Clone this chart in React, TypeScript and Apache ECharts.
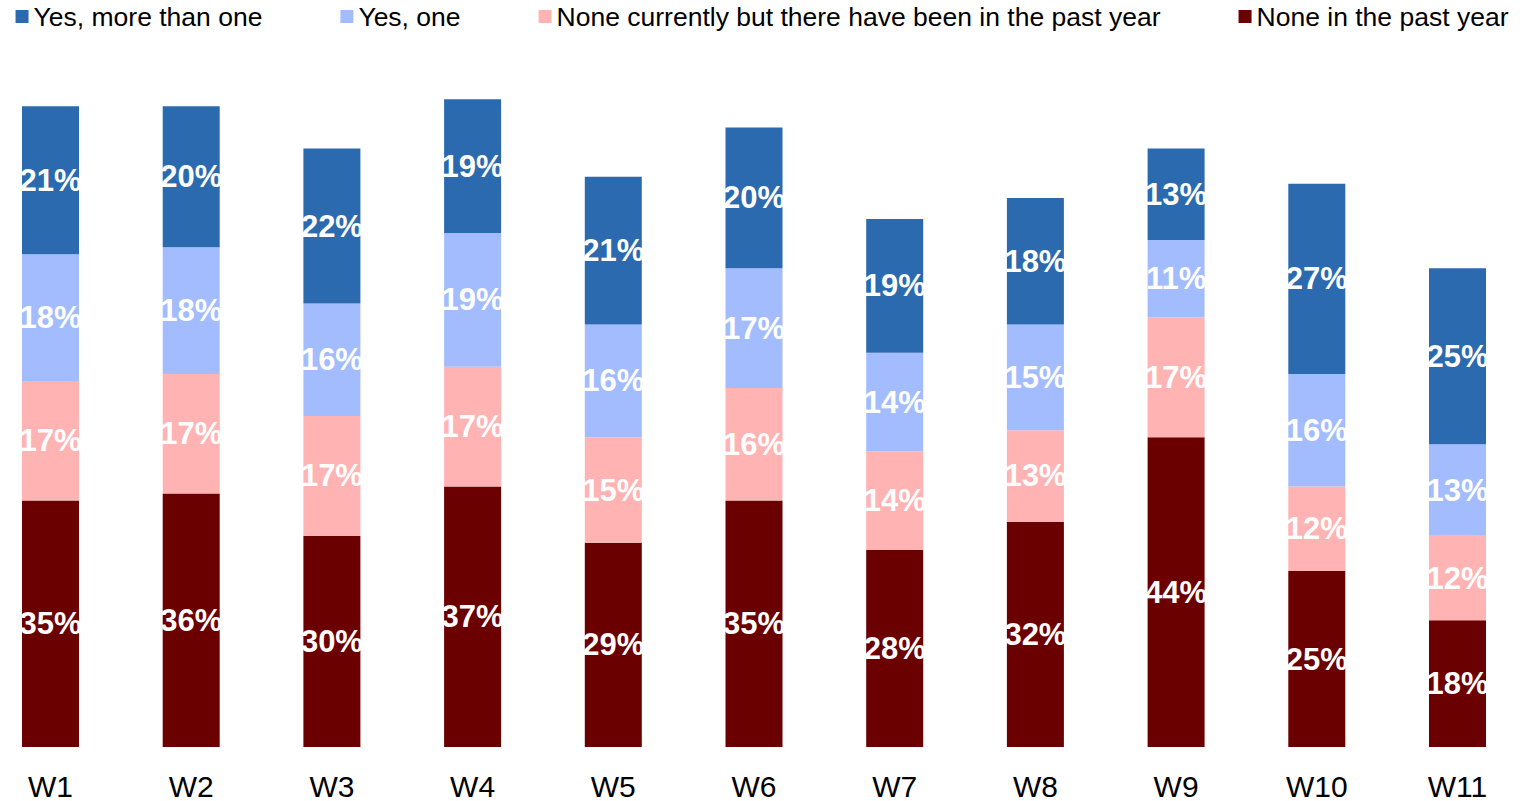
import React, { useEffect, useRef } from "react";
import * as echarts from "echarts";

const categories = ["W1", "W2", "W3", "W4", "W5", "W6", "W7", "W8", "W9", "W10", "W11"];
const yesMoreThanOne = [21, 20, 22, 19, 21, 20, 19, 18, 13, 27, 25];
const yesOne = [18, 18, 16, 19, 16, 17, 14, 15, 11, 16, 13];
const noneCurrently = [17, 17, 17, 17, 15, 16, 14, 13, 17, 12, 12];
const noneInPastYear = [35, 36, 30, 37, 29, 35, 28, 32, 44, 25, 18];

const seriesNames = [
  "Yes, more than one",
  "Yes, one",
  "None currently but there have been in the past year",
  "None in the past year",
];

const FONT = "'Liberation Sans', Arial, sans-serif";

export default function App() {
  const ref = useRef<HTMLDivElement>(null);
  useEffect(() => {
    if (!ref.current) return;
    const chart = echarts.init(ref.current, null, { renderer: "svg" });
    const label = {
      show: true,
      position: "inside",
      formatter: "{c}%",
      color: "#ffffff",
      fontSize: 31,
      fontWeight: "bold",
      fontFamily: FONT,
    };
    const mk = (name: string, data: number[], color: string) => ({
      name,
      type: "bar",
      stack: "total",
      data,
      barWidth: 57,
      itemStyle: { color },
      label,
    });
    chart.setOption({
      animation: false,
      backgroundColor: "#ffffff",
      legend: {
        data: seriesNames,
        top: 3,
        left: "center",
        padding: [0, 5],
        itemWidth: 13,
        itemHeight: 13,
        itemGap: 78,
        icon: "rect",
        textStyle: { fontSize: 26.5, color: "#000000", fontFamily: FONT },
      },
      grid: { left: 50.5, right: 66.5, top: 43, bottom: 53, containLabel: false },
      xAxis: {
        type: "category",
        data: categories,
        boundaryGap: false,
        axisLine: { show: false },
        axisTick: { show: false },
        axisLabel: { fontSize: 30, color: "#000000", margin: 24, fontFamily: FONT },
      },
      yAxis: {
        type: "value",
        min: 0,
        max: 100,
        show: false,
        splitLine: { show: false },
      },
      series: [
        mk(seriesNames[3], noneInPastYear, "#6B0000"),
        mk(seriesNames[2], noneCurrently, "#FFB3B3"),
        mk(seriesNames[1], yesOne, "#A2BCFD"),
        mk(seriesNames[0], yesMoreThanOne, "#2B6AAF"),
      ],
    });
    return () => chart.dispose();
  }, []);
  return (
    <div
      ref={ref}
      style={{ position: "absolute", left: 0, top: 0, width: 1524, height: 801 }}
    />
  );
}
